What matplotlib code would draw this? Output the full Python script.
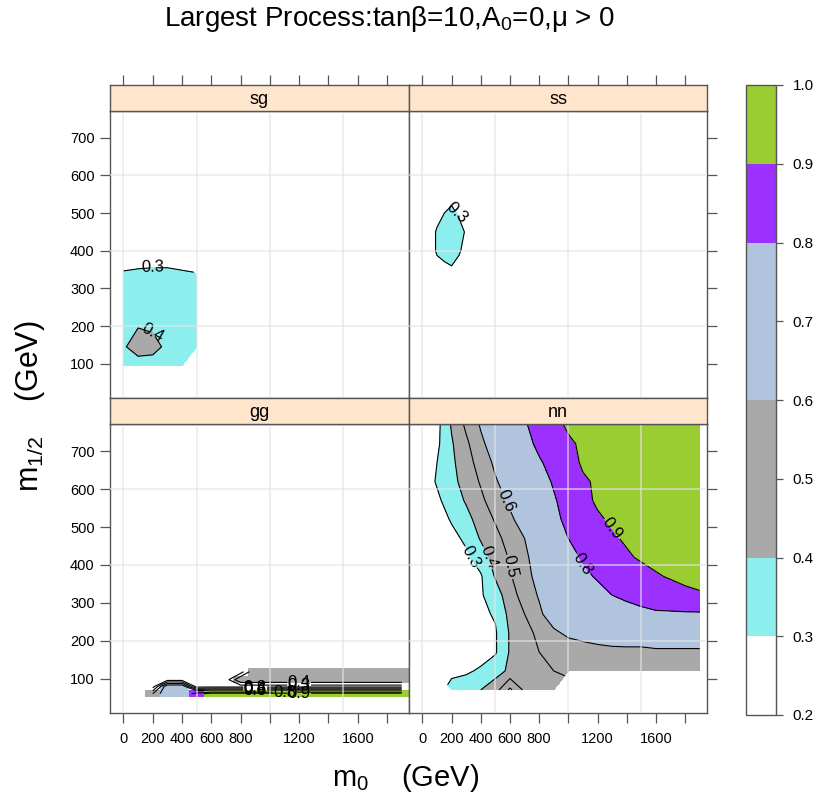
import numpy as np
import matplotlib
matplotlib.use('Agg')
import matplotlib.pyplot as plt
from matplotlib.colors import ListedColormap, BoundaryNorm
from matplotlib.cm import ScalarMappable

plt.rcParams['font.family'] = ['Liberation Sans', 'DejaVu Sans']
plt.rcParams['mathtext.fontset'] = 'custom'
plt.rcParams['mathtext.rm'] = 'Liberation Sans'
plt.rcParams['mathtext.it'] = 'Liberation Sans:italic'

LEVELS = [0.2, 0.3, 0.4, 0.6, 0.8, 0.9, 1.0]
COLORS = ['white', '#8DEEEE', '#A9A9A9', '#B0C4DE', '#9B30FF', '#9ACD32']
LINE_LEVELS = [0.3, 0.4, 0.5, 0.6, 0.8, 0.9]
CBAR_TICKS = [0.2, 0.3, 0.4, 0.5, 0.6, 0.7, 0.8, 0.9, 1.0]
X_TICKS = [0, 200, 400, 600, 800, 1000, 1200, 1400, 1600, 1800]
X_TICKLABELS = ['0', '200', '400', '600', '800', '', '1200', '', '1600', '']
Y_TICKS = [100, 200, 300, 400, 500, 600, 700]

na = np.nan

# sg: fraction where sg is the largest process (m0 on x, m1/2 on y)
sg_x = [0, 100, 200, 300, 400, 500]
sg_y = [95, 145, 195, 245, 295, 335, 375]
sg_z = [
    [0.34, 0.36, 0.36, 0.34, 0.32, na],
    [0.39, 0.44, 0.43, 0.38, 0.34, 0.32],
    [0.37, 0.40, 0.39, 0.38, 0.35, 0.33],
    [0.35, 0.36, 0.37, 0.37, 0.35, 0.33],
    [0.34, 0.35, 0.35, 0.35, 0.34, 0.33],
    [0.32, 0.33, 0.33, 0.33, 0.32, 0.31],
    [0.25, 0.26, 0.27, 0.27, 0.26, na],
]

# ss
ss_x = [50, 100, 150, 200, 250, 300, 350]
ss_y = [350, 400, 450, 500, 550]
ss_z = [
    [0.25, 0.27, 0.27, 0.29, 0.27, 0.25, 0.24],
    [0.26, 0.31, 0.34, 0.34, 0.31, 0.27, 0.25],
    [0.26, 0.31, 0.34, 0.35, 0.33, 0.29, 0.25],
    [0.25, 0.27, 0.30, 0.32, 0.29, 0.26, 0.24],
    [0.24, 0.25, 0.26, 0.27, 0.26, 0.25, 0.24],
]

# gg (cells)
gg_x = [200, 300, 400, 500, 600, 700, 800, 900, 1000, 1100, 1200, 1300,
        1400, 1500, 1600, 1700, 1800, 1900]
gg_y = [60, 79, 97, 118]
gg_z = [
    [0.50, 0.70, 0.70, 0.85, 0.95, 0.95, 0.95, 0.95, 0.95, 0.95, 0.95, 0.95,
     0.95, 0.95, 0.95, 0.95, 0.95, 0.95],
    [0.25, 0.70, 0.70, 0.25, 0.25, 0.25, 0.25, 0.25, 0.25, 0.25, 0.25, 0.25,
     0.25, 0.25, 0.25, 0.25, 0.25, 0.25],
    [0.25, 0.25, 0.25, 0.25, 0.25, 0.25, 0.50, 0.50, 0.50, 0.50, 0.50, 0.50,
     0.50, 0.50, 0.50, 0.50, 0.50, 0.50],
    [0.25, 0.25, 0.25, 0.25, 0.25, 0.25, 0.25, 0.50, 0.50, 0.50, 0.50, 0.50,
     0.50, 0.50, 0.50, 0.50, 0.50, 0.50],
]

# nn
nn_x = [0, 100, 200, 300, 400, 500, 600, 700, 800, 900, 1000, 1100, 1200,
        1300, 1400, 1500, 1600, 1700, 1800, 1900]
nn_y = [70, 120, 170, 220, 270, 320, 370, 420, 470, 520, 570, 620, 670, 720, 770]
nn_z = [
    [na, na, 0.33, 0.34, 0.40, 0.46, 0.62, 0.48, 0.46, 0.44, na, na, na, na, na, na, na, na, na, na],
    [0.20, 0.22, 0.28, 0.29, 0.31, 0.36, 0.42, 0.45, 0.48, 0.50, 0.52, 0.53, 0.54, 0.55, 0.55, 0.55, 0.56, 0.56, 0.56, 0.56],
    [0.20, 0.22, 0.24, 0.26, 0.27, 0.29, 0.41, 0.46, 0.50, 0.52, 0.54, 0.55, 0.56, 0.57, 0.57, 0.57, 0.58, 0.58, 0.58, 0.58],
    [0.20, 0.22, 0.24, 0.26, 0.28, 0.29, 0.41, 0.47, 0.52, 0.58, 0.62, 0.64, 0.66, 0.67, 0.68, 0.68, 0.69, 0.69, 0.69, 0.69],
    [0.20, 0.22, 0.24, 0.26, 0.28, 0.31, 0.43, 0.50, 0.58, 0.66, 0.71, 0.74, 0.76, 0.77, 0.78, 0.78, 0.79, 0.79, 0.79, 0.79],
    [0.20, 0.22, 0.24, 0.26, 0.29, 0.35, 0.46, 0.54, 0.61, 0.65, 0.69, 0.73, 0.77, 0.80, 0.81, 0.83, 0.84, 0.85, 0.87, 0.88],
    [0.20, 0.22, 0.25, 0.27, 0.29, 0.41, 0.49, 0.57, 0.63, 0.68, 0.73, 0.78, 0.81, 0.83, 0.85, 0.87, 0.89, 0.91, 0.93, 0.96],
    [0.20, 0.23, 0.26, 0.28, 0.35, 0.44, 0.51, 0.58, 0.65, 0.71, 0.77, 0.81, 0.84, 0.86, 0.89, 0.91, 0.93, 0.94, 0.96, 0.98],
    [0.20, 0.24, 0.27, 0.32, 0.41, 0.47, 0.54, 0.60, 0.68, 0.74, 0.80, 0.83, 0.86, 0.89, 0.91, 0.92, 0.94, 0.95, 0.97, 0.98],
    [0.20, 0.25, 0.31, 0.37, 0.44, 0.51, 0.58, 0.65, 0.71, 0.78, 0.82, 0.86, 0.89, 0.91, 0.92, 0.93, 0.94, 0.96, 0.97, 0.98],
    [0.22, 0.28, 0.35, 0.41, 0.48, 0.55, 0.62, 0.68, 0.74, 0.79, 0.84, 0.88, 0.91, 0.92, 0.93, 0.94, 0.95, 0.96, 0.97, 0.98],
    [0.24, 0.31, 0.37, 0.44, 0.51, 0.59, 0.65, 0.71, 0.76, 0.81, 0.85, 0.89, 0.91, 0.92, 0.93, 0.94, 0.95, 0.96, 0.97, 0.98],
    [0.24, 0.30, 0.38, 0.46, 0.54, 0.62, 0.68, 0.73, 0.79, 0.83, 0.87, 0.91, 0.91, 0.92, 0.93, 0.94, 0.95, 0.96, 0.97, 0.98],
    [0.22, 0.28, 0.39, 0.48, 0.58, 0.65, 0.71, 0.77, 0.82, 0.86, 0.89, 0.91, 0.92, 0.93, 0.94, 0.94, 0.95, 0.96, 0.97, 0.98],
    [0.22, 0.27, 0.41, 0.52, 0.61, 0.67, 0.74, 0.79, 0.84, 0.88, 0.91, 0.91, 0.92, 0.93, 0.94, 0.95, 0.95, 0.96, 0.97, 0.98],
]

XLIM = (-92, 1950)
YLIM = (9, 772)
STRIP_COL = '#FFE5CC'
EDGE_COL = '#555555'
TICK_SIZE = 10.5

cmap = ListedColormap(COLORS)
norm = BoundaryNorm(LEVELS, cmap.N)

fig = plt.figure(figsize=(8.17, 8.02), dpi=100)
W, H = 817.0, 802.0


def box(x0, x1, y0, y1):
    # pixel box (top-left origin) -> figure fraction rect
    return [x0 / W, 1 - y1 / H, (x1 - x0) / W, (y1 - y0) / H]


def draw_panel(ax, x, y, z, cells=False):
    z = np.ma.masked_invalid(np.array(z, dtype=float))
    if cells:
        ax.pcolormesh(x, y, z, cmap=cmap, norm=norm, shading='nearest')
    else:
        ax.contourf(x, y, z, levels=LEVELS, colors=COLORS)
    cs = ax.contour(x, y, z, levels=LINE_LEVELS, colors='black', linewidths=0.8)
    ax.clabel(cs, fmt='%.1f', fontsize=12, inline=True, inline_spacing=2)
    for v in [0, 500, 1000, 1500]:
        ax.axvline(v, color='#e4e4e4', lw=1.2, alpha=0.7, zorder=4)
    for h in [200, 400, 600]:
        ax.axhline(h, color='#e4e4e4', lw=1.2, alpha=0.7, zorder=4)


panels = [
    ('sg', sg_x, sg_y, sg_z, False, (110, 409), (110.7, 398), (85, 110.7), 'top', 'left'),
    ('ss', ss_x, ss_y, ss_z, False, (409, 707), (110.7, 398), (85, 110.7), 'top', 'right'),
    ('gg', gg_x, gg_y, gg_z, True, (110, 409), (424, 713), (398, 424), 'bottom', 'left'),
    ('nn', nn_x, nn_y, nn_z, False, (409, 707), (424, 713), (398, 424), 'bottom', 'right'),
]

for name, x, y, z, cells, (x0, x1), (y0, y1), (s0, s1), row, col in panels:
    ax = fig.add_axes(box(x0, x1, y0, y1))
    draw_panel(ax, x, y, z, cells)
    ax.set_xlim(*XLIM)
    ax.set_ylim(*YLIM)
    for sp in ax.spines.values():
        sp.set_color(EDGE_COL)
        sp.set_linewidth(1.0)
    ax.tick_params(axis='y', direction='out', length=7, width=0.9,
                   color=EDGE_COL, labelsize=TICK_SIZE, pad=4)
    ax.tick_params(axis='x', direction='out', length=7, width=0.9,
                   color=EDGE_COL, labelsize=TICK_SIZE, pad=7)
    ax.set_yticks(Y_TICKS)
    if col == 'left':
        ax.set_yticklabels([str(v) for v in Y_TICKS])
    else:
        ax.yaxis.tick_right()
        ax.set_yticklabels([])
    if row == 'bottom':
        ax.set_xticks(X_TICKS)
        ax.set_xticklabels(X_TICKLABELS)
    else:
        ax.set_xticks([])

    sax = fig.add_axes(box(x0, x1, s0, s1))
    sax.set_facecolor(STRIP_COL)
    sax.set_xlim(*XLIM)
    sax.set_yticks([])
    for sp in sax.spines.values():
        sp.set_color(EDGE_COL)
        sp.set_linewidth(1.0)
    if row == 'top':
        sax.xaxis.tick_top()
        sax.set_xticks(X_TICKS)
        sax.set_xticklabels([])
        sax.tick_params(direction='out', length=7, width=0.9, color=EDGE_COL)
    else:
        sax.set_xticks([])
    sax.text(0.5, 0.45, name, transform=sax.transAxes, ha='center', va='center',
             fontsize=13)

# colour key
cax = fig.add_axes(box(746, 776, 85, 715))
cb = fig.colorbar(ScalarMappable(norm=norm, cmap=cmap), cax=cax,
                  spacing='proportional', ticks=CBAR_TICKS)
cb.ax.set_yticklabels([f'{t:.1f}' for t in CBAR_TICKS])
cb.ax.tick_params(direction='out', length=5, width=0.9, color=EDGE_COL,
                  labelsize=11, pad=7)
cb.outline.set_edgecolor(EDGE_COL)
cb.outline.set_linewidth(1.0)

fig.text(390 / W, 1 - 19 / H, r'Largest Process:tanβ=10,A$_0$=0,μ > 0',
         ha='center', va='center', fontsize=20)
fig.text(406 / W, 1 - 778 / H, r'm$_0$    (GeV)', ha='center', va='center',
         fontsize=21)
fig.text(30 / W, 1 - 406 / H, r'm$_{1/2}$    (GeV)', ha='center', va='center',
         fontsize=22, rotation=90)

fig.savefig('out.png', dpi=100)
